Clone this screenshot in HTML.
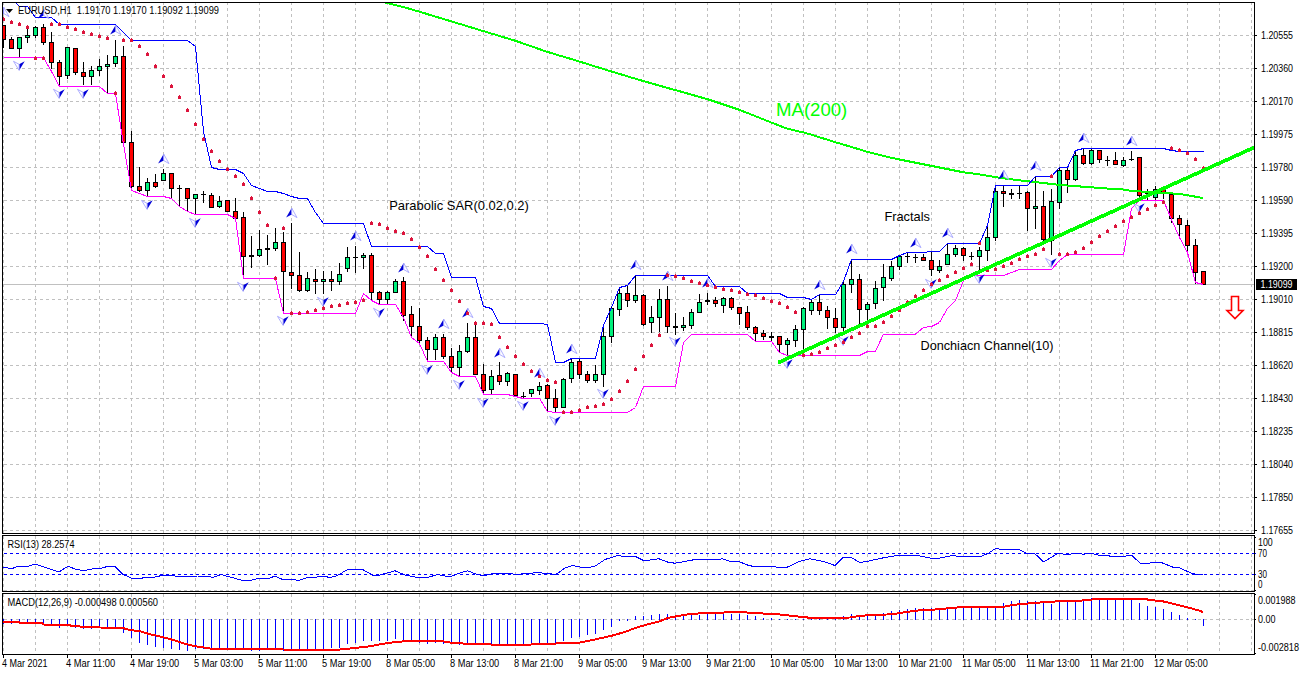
<!DOCTYPE html>
<html><head><meta charset="utf-8"><style>
html,body{margin:0;padding:0;background:#fff;}
body{width:1300px;height:675px;overflow:hidden;}
svg{display:block;font-family:"Liberation Sans", sans-serif;}
</style></head><body>
<svg width="1300" height="675" viewBox="0 0 1300 675">
<defs><clipPath id="cm"><rect x="3" y="3" width="1251" height="530"/></clipPath>
<clipPath id="cr"><rect x="3" y="536" width="1251" height="55"/></clipPath>
<clipPath id="cd"><rect x="3" y="594" width="1251" height="60"/></clipPath></defs>
<rect width="1300" height="675" fill="#fff"/>
<path d="M4 35.5H1254 M4 68.5H1254 M4 101.5H1254 M4 134.5H1254 M4 167.5H1254 M4 200.5H1254 M4 233.5H1254 M4 266.5H1254 M4 299.5H1254 M4 332.5H1254 M4 365.5H1254 M4 398.5H1254 M4 431.5H1254 M4 464.5H1254 M4 497.5H1254 M4 530.5H1254 M3.5 2V533 M35.5 2V533 M67.5 2V533 M99.5 2V533 M131.5 2V533 M163.5 2V533 M195.5 2V533 M227.5 2V533 M259.5 2V533 M291.5 2V533 M323.5 2V533 M355.5 2V533 M387.5 2V533 M419.5 2V533 M451.5 2V533 M483.5 2V533 M515.5 2V533 M547.5 2V533 M579.5 2V533 M611.5 2V533 M643.5 2V533 M675.5 2V533 M707.5 2V533 M739.5 2V533 M771.5 2V533 M803.5 2V533 M835.5 2V533 M867.5 2V533 M899.5 2V533 M931.5 2V533 M963.5 2V533 M995.5 2V533 M1027.5 2V533 M1059.5 2V533 M1091.5 2V533 M1123.5 2V533 M1155.5 2V533 M1187.5 2V533 M1219.5 2V533 M1251.5 2V533" stroke="#c0c0c0" stroke-width="1" stroke-dasharray="3 3" fill="none" shape-rendering="crispEdges"/>
<path d="M3.5 536V591 M3.5 594V654 M35.5 536V591 M35.5 594V654 M67.5 536V591 M67.5 594V654 M99.5 536V591 M99.5 594V654 M131.5 536V591 M131.5 594V654 M163.5 536V591 M163.5 594V654 M195.5 536V591 M195.5 594V654 M227.5 536V591 M227.5 594V654 M259.5 536V591 M259.5 594V654 M291.5 536V591 M291.5 594V654 M323.5 536V591 M323.5 594V654 M355.5 536V591 M355.5 594V654 M387.5 536V591 M387.5 594V654 M419.5 536V591 M419.5 594V654 M451.5 536V591 M451.5 594V654 M483.5 536V591 M483.5 594V654 M515.5 536V591 M515.5 594V654 M547.5 536V591 M547.5 594V654 M579.5 536V591 M579.5 594V654 M611.5 536V591 M611.5 594V654 M643.5 536V591 M643.5 594V654 M675.5 536V591 M675.5 594V654 M707.5 536V591 M707.5 594V654 M739.5 536V591 M739.5 594V654 M771.5 536V591 M771.5 594V654 M803.5 536V591 M803.5 594V654 M835.5 536V591 M835.5 594V654 M867.5 536V591 M867.5 594V654 M899.5 536V591 M899.5 594V654 M931.5 536V591 M931.5 594V654 M963.5 536V591 M963.5 594V654 M995.5 536V591 M995.5 594V654 M1027.5 536V591 M1027.5 594V654 M1059.5 536V591 M1059.5 594V654 M1091.5 536V591 M1091.5 594V654 M1123.5 536V591 M1123.5 594V654 M1155.5 536V591 M1155.5 594V654 M1187.5 536V591 M1187.5 594V654 M1219.5 536V591 M1219.5 594V654 M1251.5 536V591 M1251.5 594V654" stroke="#c0c0c0" stroke-dasharray="3 3" fill="none" shape-rendering="crispEdges"/>
<path d="M4 590.5H1254M4 619.5H1254" stroke="#c0c0c0" stroke-dasharray="3 3" fill="none" shape-rendering="crispEdges"/>
<path d="M4 553.5H1254M4 574.5H1254" stroke="#0000ff" stroke-dasharray="3 3" fill="none" shape-rendering="crispEdges"/>
<g clip-path="url(#cm)">
<path d="M3 284.5H1254" stroke="#c0c0c0" fill="none" shape-rendering="crispEdges"/>
<path d="M3.5 24.5V48.0 M11.5 37.0V49.0 M19.5 37.0V58.0 M27.5 29.0V43.0 M35.5 26.0V38 M43.5 24.0V45.0 M51.5 32.0V69.0 M59.5 60.0V86.0 M67.5 47.0V79.0 M75.5 48.0V75.0 M83.5 62.0V85.0 M91.5 66.0V85.0 M99.5 59.0V76.0 M107.5 55.0V94.0 M115.5 40.0V67.0 M123.5 46.0V145.0 M131.5 131.0V188.0 M139.5 167.0V192.0 M147.5 178.0V197.0 M155.5 174.0V188.0 M163.5 169.0V181.0 M171.5 173.0V199.0 M179.5 185.0V207.0 M177 188.5H182 M187.5 188.0V212.0 M195.5 194.0V215.0 M203.5 191.0V203.0 M201 194.5H206 M211.5 193.0V208.0 M219.5 196.0V208.0 M227.5 200.0V212.0 M235.5 198.0V219.0 M243.5 212.0V276.0 M251.5 236.0V268.0 M259.5 230.0V257.0 M267.5 235.0V265.0 M275.5 228.0V251.0 M283.5 232.0V312.0 M291.5 223.0V289.0 M299.5 252.0V292.0 M307.5 272.0V292.0 M315.5 269.0V294.0 M323.5 271.0V294.0 M331.5 271.0V291.0 M339.5 263.0V285.0 M347.5 247.0V272 M355.5 246.0V273.0 M353 257.5H358 M363.5 253.0V269.0 M371.5 253.0V301 M379.5 291.0V305 M387.5 291.0V305 M395.5 279.0V293.0 M403.5 277.0V321.0 M411.5 306.0V338.0 M419.5 308.0V344.0 M427.5 337.0V362.0 M435.5 334.0V360.0 M443.5 334.0V359.0 M451.5 348.0V373.0 M459.5 345.0V377.0 M467.5 323.0V353.0 M475.5 324.0V375.0 M483.5 364.0V395.0 M491.5 370.0V395.0 M499.5 362.0V385.0 M507.5 372.0V386.0 M515.5 374.0V397.0 M523.5 392.0V399.0 M521 396.5H526 M531.5 389.0V397.0 M539.5 382.0V395.0 M547.5 384.0V412.0 M555.5 389.0V413.0 M563.5 378.0V408.0 M571.5 358V383.0 M579.5 359.0V379.0 M587.5 371.0V383.0 M595.5 365.0V383.0 M603.5 325.0V387.0 M611.5 307.0V343.0 M619.5 287V316 M627.5 285.0V307.0 M635.5 275V303 M643.5 294.0V326.0 M651.5 306.0V333.0 M659.5 289.0V332.0 M667.5 286.0V333.0 M675.5 313.0V335.0 M683.5 317.0V331.0 M691.5 309.0V329.0 M699.5 294.0V313.0 M707.5 293.0V305.0 M715.5 297.0V307.0 M723.5 297.0V313.0 M731.5 297.0V310.0 M739.5 307.0V325.0 M747.5 306.0V330 M755.5 326.0V342.0 M763.5 330.0V340.0 M771.5 332.0V342.0 M779.5 336.0V353.0 M787.5 338.0V356.0 M795.5 325.0V347.0 M803.5 307.0V352 M811.5 299V315.0 M819.5 294V315.0 M827.5 306.0V329.0 M835.5 308.0V333.0 M843.5 281.0V332.0 M851.5 259V293.0 M859.5 274.0V325.0 M867.5 302.0V323.0 M875.5 281.0V309.0 M883.5 264.0V301.0 M891.5 261.0V281.0 M899.5 255.0V270.0 M907.5 252.0V263.0 M905 256.5H910 M915.5 254.0V263.0 M913 257.5H918 M923.5 254.0V261.0 M931.5 251.0V276.0 M939.5 260.0V273.0 M947.5 243V265.0 M955.5 245.0V257.0 M963.5 247.0V261.0 M971.5 252.0V260.0 M969 256.5H974 M979.5 247.0V270.0 M987.5 225.0V261.0 M995.5 185V241.0 M1003.5 185V207.0 M1011.5 189.0V199.0 M1019.5 186.0V199.0 M1017 193.5H1022 M1027.5 191.0V231.0 M1035.5 176.0V229.0 M1043.5 191.0V241.0 M1051.5 189.0V255.0 M1059.5 167V209.0 M1067.5 168.0V193.0 M1075.5 150.0V181.0 M1083.5 148V165.0 M1091.5 148V165.0 M1099.5 150V163.0 M1107.5 156.0V166.0 M1105 160.5H1110 M1115.5 152.0V165.0 M1123.5 157.0V167.0 M1131.5 151.0V161.0 M1129 159.5H1134 M1139.5 157.0V200 M1147.5 189.0V201.0 M1145 193.5H1150 M1155.5 186.0V200.0 M1163.5 190.0V199.0 M1171.5 192.0V223.0 M1179.5 215.0V238.0 M1187.5 220.0V253.0 M1195.5 239.0V284.0 M1203.5 271.0V285.0" stroke="#000" fill="none" shape-rendering="crispEdges"/>
<g shape-rendering="crispEdges"><rect x="1.5" y="25.5" width="4" height="14.0" fill="#ff0000" stroke="#000"/><rect x="9.5" y="39.5" width="4" height="9.0" fill="#ff0000" stroke="#000"/><rect x="17.5" y="37.5" width="4" height="11.0" fill="#00f07c" stroke="#000"/><rect x="25.5" y="35.5" width="4" height="2" fill="#00f07c" stroke="#000"/><rect x="33.5" y="27.5" width="4" height="8.0" fill="#00f07c" stroke="#000"/><rect x="41.5" y="27.5" width="4" height="15.0" fill="#ff0000" stroke="#000"/><rect x="49.5" y="42.5" width="4" height="20.0" fill="#ff0000" stroke="#000"/><rect x="57.5" y="62.5" width="4" height="14.0" fill="#ff0000" stroke="#000"/><rect x="65.5" y="47.5" width="4" height="28.0" fill="#00f07c" stroke="#000"/><rect x="73.5" y="48.5" width="4" height="24.0" fill="#ff0000" stroke="#000"/><rect x="81.5" y="72.5" width="4" height="4.0" fill="#ff0000" stroke="#000"/><rect x="89.5" y="70.5" width="4" height="6.0" fill="#00f07c" stroke="#000"/><rect x="97.5" y="66.5" width="4" height="4.0" fill="#00f07c" stroke="#000"/><rect x="105.5" y="64.5" width="4" height="2.0" fill="#00f07c" stroke="#000"/><rect x="113.5" y="56.5" width="4" height="7.0" fill="#00f07c" stroke="#000"/><rect x="121.5" y="56.5" width="4" height="86.0" fill="#ff0000" stroke="#000"/><rect x="129.5" y="142.5" width="4" height="44.0" fill="#ff0000" stroke="#000"/><rect x="137.5" y="186.5" width="4" height="4.0" fill="#ff0000" stroke="#000"/><rect x="145.5" y="182.5" width="4" height="8.0" fill="#00f07c" stroke="#000"/><rect x="153.5" y="182.5" width="4" height="4.0" fill="#ff0000" stroke="#000"/><rect x="161.5" y="173.5" width="4" height="7.0" fill="#00f07c" stroke="#000"/><rect x="169.5" y="173.5" width="4" height="15.0" fill="#ff0000" stroke="#000"/><rect x="185.5" y="188.5" width="4" height="10.0" fill="#ff0000" stroke="#000"/><rect x="193.5" y="194.5" width="4" height="4.0" fill="#00f07c" stroke="#000"/><rect x="209.5" y="195.5" width="4" height="12.0" fill="#ff0000" stroke="#000"/><rect x="217.5" y="201.5" width="4" height="5.0" fill="#00f07c" stroke="#000"/><rect x="225.5" y="200.5" width="4" height="11.0" fill="#ff0000" stroke="#000"/><rect x="233.5" y="211.5" width="4" height="7.0" fill="#ff0000" stroke="#000"/><rect x="241.5" y="217.5" width="4" height="39.0" fill="#ff0000" stroke="#000"/><rect x="249.5" y="255.5" width="4" height="1" fill="#ff0000" stroke="#000"/><rect x="257.5" y="249.5" width="4" height="6" fill="#00f07c" stroke="#000"/><rect x="265.5" y="248.5" width="4" height="1" fill="#ff0000" stroke="#000"/><rect x="273.5" y="242.5" width="4" height="6.0" fill="#00f07c" stroke="#000"/><rect x="281.5" y="242.5" width="4" height="29.0" fill="#ff0000" stroke="#000"/><rect x="289.5" y="272.5" width="4" height="3.0" fill="#ff0000" stroke="#000"/><rect x="297.5" y="275.5" width="4" height="15.0" fill="#ff0000" stroke="#000"/><rect x="305.5" y="278.5" width="4" height="12.0" fill="#00f07c" stroke="#000"/><rect x="313.5" y="279.5" width="4" height="2.0" fill="#ff0000" stroke="#000"/><rect x="321.5" y="279.5" width="4" height="2.0" fill="#00f07c" stroke="#000"/><rect x="329.5" y="279.5" width="4" height="2.0" fill="#ff0000" stroke="#000"/><rect x="337.5" y="274.5" width="4" height="7.0" fill="#00f07c" stroke="#000"/><rect x="345.5" y="257.5" width="4" height="11.0" fill="#00f07c" stroke="#000"/><rect x="361.5" y="255.5" width="4" height="2.0" fill="#00f07c" stroke="#000"/><rect x="369.5" y="255.5" width="4" height="37.0" fill="#ff0000" stroke="#000"/><rect x="377.5" y="292.5" width="4" height="7.0" fill="#ff0000" stroke="#000"/><rect x="385.5" y="292.5" width="4" height="7.0" fill="#00f07c" stroke="#000"/><rect x="393.5" y="281.5" width="4" height="11.0" fill="#00f07c" stroke="#000"/><rect x="401.5" y="281.5" width="4" height="34.0" fill="#ff0000" stroke="#000"/><rect x="409.5" y="314.5" width="4" height="12.0" fill="#ff0000" stroke="#000"/><rect x="417.5" y="326.5" width="4" height="14.0" fill="#ff0000" stroke="#000"/><rect x="425.5" y="340.5" width="4" height="9.0" fill="#ff0000" stroke="#000"/><rect x="433.5" y="337.5" width="4" height="12.0" fill="#00f07c" stroke="#000"/><rect x="441.5" y="337.5" width="4" height="19.0" fill="#ff0000" stroke="#000"/><rect x="449.5" y="356.5" width="4" height="11.0" fill="#ff0000" stroke="#000"/><rect x="457.5" y="351.5" width="4" height="16.0" fill="#00f07c" stroke="#000"/><rect x="465.5" y="337.5" width="4" height="14.0" fill="#00f07c" stroke="#000"/><rect x="473.5" y="337.5" width="4" height="37.0" fill="#ff0000" stroke="#000"/><rect x="481.5" y="374.5" width="4" height="16.0" fill="#ff0000" stroke="#000"/><rect x="489.5" y="376.5" width="4" height="13.0" fill="#00f07c" stroke="#000"/><rect x="497.5" y="375.5" width="4" height="6" fill="#ff0000" stroke="#000"/><rect x="505.5" y="373.5" width="4" height="8" fill="#00f07c" stroke="#000"/><rect x="513.5" y="374.5" width="4" height="21.0" fill="#ff0000" stroke="#000"/><rect x="529.5" y="389.5" width="4" height="4" fill="#00f07c" stroke="#000"/><rect x="537.5" y="386.5" width="4" height="4.0" fill="#00f07c" stroke="#000"/><rect x="545.5" y="385.5" width="4" height="13.0" fill="#ff0000" stroke="#000"/><rect x="553.5" y="398.5" width="4" height="9.0" fill="#ff0000" stroke="#000"/><rect x="561.5" y="379.5" width="4" height="28.0" fill="#00f07c" stroke="#000"/><rect x="569.5" y="362.5" width="4" height="16.0" fill="#00f07c" stroke="#000"/><rect x="577.5" y="361.5" width="4" height="13.0" fill="#ff0000" stroke="#000"/><rect x="585.5" y="374.5" width="4" height="6.0" fill="#ff0000" stroke="#000"/><rect x="593.5" y="374.5" width="4" height="6.0" fill="#00f07c" stroke="#000"/><rect x="601.5" y="336.5" width="4" height="38.0" fill="#00f07c" stroke="#000"/><rect x="609.5" y="308.5" width="4" height="28.0" fill="#00f07c" stroke="#000"/><rect x="617.5" y="293.5" width="4" height="16.0" fill="#00f07c" stroke="#000"/><rect x="625.5" y="293.5" width="4" height="7.0" fill="#ff0000" stroke="#000"/><rect x="633.5" y="295.5" width="4" height="5.0" fill="#00f07c" stroke="#000"/><rect x="641.5" y="295.5" width="4" height="29.0" fill="#ff0000" stroke="#000"/><rect x="649.5" y="317.5" width="4" height="5.0" fill="#00f07c" stroke="#000"/><rect x="657.5" y="299.5" width="4" height="18.0" fill="#00f07c" stroke="#000"/><rect x="665.5" y="299.5" width="4" height="27.0" fill="#ff0000" stroke="#000"/><rect x="673.5" y="326.5" width="4" height="1" fill="#ff0000" stroke="#000"/><rect x="681.5" y="325.5" width="4" height="2.0" fill="#00f07c" stroke="#000"/><rect x="689.5" y="312.5" width="4" height="13.0" fill="#00f07c" stroke="#000"/><rect x="697.5" y="302.5" width="4" height="10.0" fill="#00f07c" stroke="#000"/><rect x="705.5" y="300.5" width="4" height="1" fill="#ff0000" stroke="#000"/><rect x="713.5" y="300.5" width="4" height="3.0" fill="#ff0000" stroke="#000"/><rect x="721.5" y="298.5" width="4" height="7.0" fill="#00f07c" stroke="#000"/><rect x="729.5" y="298.5" width="4" height="9.0" fill="#ff0000" stroke="#000"/><rect x="737.5" y="307.5" width="4" height="6.0" fill="#ff0000" stroke="#000"/><rect x="745.5" y="312.5" width="4" height="15.0" fill="#ff0000" stroke="#000"/><rect x="753.5" y="327.5" width="4" height="6.0" fill="#ff0000" stroke="#000"/><rect x="761.5" y="333.5" width="4" height="3.0" fill="#ff0000" stroke="#000"/><rect x="769.5" y="336.5" width="4" height="1" fill="#ff0000" stroke="#000"/><rect x="777.5" y="336.5" width="4" height="8.0" fill="#ff0000" stroke="#000"/><rect x="785.5" y="340.5" width="4" height="4.0" fill="#00f07c" stroke="#000"/><rect x="793.5" y="329.5" width="4" height="11.0" fill="#00f07c" stroke="#000"/><rect x="801.5" y="308.5" width="4" height="21.0" fill="#00f07c" stroke="#000"/><rect x="809.5" y="302.5" width="4" height="8.0" fill="#00f07c" stroke="#000"/><rect x="817.5" y="302.5" width="4" height="8.0" fill="#ff0000" stroke="#000"/><rect x="825.5" y="310.5" width="4" height="7.0" fill="#ff0000" stroke="#000"/><rect x="833.5" y="318.5" width="4" height="9.0" fill="#ff0000" stroke="#000"/><rect x="841.5" y="284.5" width="4" height="43.0" fill="#00f07c" stroke="#000"/><rect x="849.5" y="279.5" width="4" height="5.0" fill="#00f07c" stroke="#000"/><rect x="857.5" y="279.5" width="4" height="30" fill="#ff0000" stroke="#000"/><rect x="865.5" y="304.5" width="4" height="5.0" fill="#00f07c" stroke="#000"/><rect x="873.5" y="288.5" width="4" height="15.0" fill="#00f07c" stroke="#000"/><rect x="881.5" y="277.5" width="4" height="10.0" fill="#00f07c" stroke="#000"/><rect x="889.5" y="266.5" width="4" height="12.0" fill="#00f07c" stroke="#000"/><rect x="897.5" y="256.5" width="4" height="10.0" fill="#00f07c" stroke="#000"/><rect x="921.5" y="257.5" width="4" height="3" fill="#ff0000" stroke="#000"/><rect x="929.5" y="260.5" width="4" height="9.0" fill="#ff0000" stroke="#000"/><rect x="937.5" y="266.5" width="4" height="4.0" fill="#00f07c" stroke="#000"/><rect x="945.5" y="254.5" width="4" height="10.0" fill="#00f07c" stroke="#000"/><rect x="953.5" y="248.5" width="4" height="6.0" fill="#00f07c" stroke="#000"/><rect x="961.5" y="248.5" width="4" height="7.0" fill="#ff0000" stroke="#000"/><rect x="977.5" y="250.5" width="4" height="6.0" fill="#00f07c" stroke="#000"/><rect x="985.5" y="237.5" width="4" height="13.0" fill="#00f07c" stroke="#000"/><rect x="993.5" y="191.5" width="4" height="46.0" fill="#00f07c" stroke="#000"/><rect x="1001.5" y="191.5" width="4" height="2.0" fill="#ff0000" stroke="#000"/><rect x="1009.5" y="193.5" width="4" height="1" fill="#ff0000" stroke="#000"/><rect x="1025.5" y="192.5" width="4" height="16.0" fill="#ff0000" stroke="#000"/><rect x="1033.5" y="206.5" width="4" height="2.0" fill="#00f07c" stroke="#000"/><rect x="1041.5" y="206.5" width="4" height="33.0" fill="#ff0000" stroke="#000"/><rect x="1049.5" y="201.5" width="4" height="39.0" fill="#00f07c" stroke="#000"/><rect x="1057.5" y="170.5" width="4" height="32.0" fill="#00f07c" stroke="#000"/><rect x="1065.5" y="170.5" width="4" height="9.0" fill="#ff0000" stroke="#000"/><rect x="1073.5" y="155.5" width="4" height="24" fill="#00f07c" stroke="#000"/><rect x="1081.5" y="155.5" width="4" height="8.0" fill="#ff0000" stroke="#000"/><rect x="1089.5" y="150.5" width="4" height="13.0" fill="#00f07c" stroke="#000"/><rect x="1097.5" y="150.5" width="4" height="9.0" fill="#ff0000" stroke="#000"/><rect x="1113.5" y="160.5" width="4" height="4.0" fill="#ff0000" stroke="#000"/><rect x="1121.5" y="160.5" width="4" height="5.0" fill="#00f07c" stroke="#000"/><rect x="1137.5" y="157.5" width="4" height="38.0" fill="#ff0000" stroke="#000"/><rect x="1153.5" y="189.5" width="4" height="8" fill="#00f07c" stroke="#000"/><rect x="1161.5" y="189.5" width="4" height="4.0" fill="#ff0000" stroke="#000"/><rect x="1169.5" y="194.5" width="4" height="24.0" fill="#ff0000" stroke="#000"/><rect x="1177.5" y="218.5" width="4" height="6.0" fill="#ff0000" stroke="#000"/><rect x="1185.5" y="225.5" width="4" height="20.0" fill="#ff0000" stroke="#000"/><rect x="1193.5" y="245.5" width="4" height="27.0" fill="#ff0000" stroke="#000"/><rect x="1201.5" y="271.5" width="4" height="13.0" fill="#ff0000" stroke="#000"/></g>
<polyline points="382.0,1.5 385.0,2.4 387.0,3.0 395.0,5.0 403.0,7.0 411.0,9.2 419.0,11.6 427.0,14.0 435.0,16.5 443.0,18.9 451.0,21.3 459.0,23.7 467.0,26.1 475.0,28.6 483.0,31.0 491.0,33.4 499.0,35.8 507.0,38.3 515.0,40.7 523.0,43.4 531.0,46.2 539.0,49.0 547.0,51.8 555.0,54.2 563.0,56.6 571.0,59.0 579.0,61.4 587.0,63.9 595.0,66.4 603.0,68.9 611.0,71.4 619.0,73.8 627.0,76.2 635.0,78.6 643.0,81.0 651.0,83.2 659.0,85.5 667.0,87.8 675.0,90.0 683.0,92.2 691.0,94.5 699.0,96.8 707.0,99.0 715.0,101.7 723.0,104.3 731.0,107.0 739.0,109.7 747.0,112.8 755.0,116.0 763.0,119.2 771.0,122.4 779.0,125.5 787.0,128.6 795.0,130.6 803.0,132.3 811.0,134.6 819.0,137.1 827.0,139.6 835.0,142.1 843.0,144.5 851.0,146.9 859.0,149.3 867.0,151.7 875.0,153.7 883.0,155.7 891.0,157.7 899.0,159.4 907.0,161.0 915.0,162.6 923.0,164.2 931.0,165.8 939.0,167.4 947.0,169.0 955.0,170.6 963.0,172.2 971.0,173.3 979.0,174.3 987.0,175.7 995.0,177.1 1003.0,178.3 1011.0,179.3 1019.0,180.2 1027.0,181.2 1035.0,182.1 1043.0,183.0 1051.0,183.9 1059.0,184.9 1067.0,185.5 1075.0,186.1 1083.0,186.7 1091.0,187.3 1099.0,187.9 1107.0,188.5 1115.0,189.0 1123.0,189.5 1131.0,190.8 1139.0,191.4 1147.0,191.9 1155.0,192.5 1163.0,193.0 1171.0,193.4 1179.0,193.9 1187.0,195.2 1195.0,196.6 1203.0,198.0" stroke="#00ff00" stroke-width="2" fill="none" shape-rendering="crispEdges"/>
<polyline points="3.5,-5.5 11.5,-1.7999999999999998 19.5,6.5 27.5,6.5 35.5,17.5 43.5,17.5 51.5,17.5 59.5,24.5 67.5,24.5 75.5,24.5 83.5,24.5 91.5,24.5 99.5,24.5 107.5,24.5 115.5,24.5 123.5,32.5 131.5,40.5 139.5,40.5 147.5,40.5 155.5,40.5 163.5,40.5 171.5,40.5 179.5,40.5 187.5,40.5 195.5,46.5 203.5,131.5 211.5,167.5 219.5,169.5 227.5,169.5 235.5,169.5 243.5,173.5 251.5,185.5 259.5,188.5 267.5,191.5 275.5,191.5 283.5,193.5 291.5,196.5 299.5,198.5 307.5,198.5 315.5,212.5 323.5,223.5 331.5,223.5 339.5,223.5 347.5,223.5 355.5,223.5 363.5,223.5 371.5,246.5 379.5,246.5 387.5,246.5 395.5,246.5 403.5,246.5 411.5,246.5 419.5,246.5 427.5,246.5 435.5,253.5 443.5,253.5 451.5,277.5 459.5,277.5 467.5,277.5 475.5,277.5 483.5,306.5 491.5,308.5 499.5,323.5 507.5,323.5 515.5,323.5 523.5,323.5 531.5,323.5 539.5,323.5 547.5,324.5 555.5,362.5 563.5,362.5 571.5,358.5 579.5,358.5 587.5,358.5 595.5,358.5 603.5,325.5 611.5,307.5 619.5,287.5 627.5,285.5 635.5,275.5 643.5,275.5 651.5,275.5 659.5,275.5 667.5,275.5 675.5,275.5 683.5,275.5 691.5,275.5 699.5,275.5 707.5,275.5 715.5,286.5 723.5,286.5 731.5,286.5 739.5,286.5 747.5,293.5 755.5,293.5 763.5,293.5 771.5,293.5 779.5,293.5 787.5,297.5 795.5,297.5 803.5,297.5 811.5,299.5 819.5,294.5 827.5,294.5 835.5,294.5 843.5,281.5 851.5,259.5 859.5,259.5 867.5,259.5 875.5,259.5 883.5,259.5 891.5,259.5 899.5,255.5 907.5,252.5 915.5,252.5 923.5,252.5 931.5,251.5 939.5,251.5 947.5,243.5 955.5,243.5 963.5,243.5 971.5,243.5 979.5,243.5 987.5,225.5 995.5,185.5 1003.5,185.5 1011.5,185.5 1019.5,185.5 1027.5,185.5 1035.5,176.5 1043.5,176.5 1051.5,176.5 1059.5,167.5 1067.5,167.5 1075.5,150.5 1083.5,148.5 1091.5,148.5 1099.5,148.5 1107.5,148.5 1115.5,148.5 1123.5,148.5 1131.5,148.5 1139.5,148.5 1147.5,148.5 1155.5,148.5 1163.5,148.5 1171.5,150.5 1179.5,151.5 1187.5,151.5 1195.5,151.5 1203.5,151.5" stroke="#0000ff" fill="none" shape-rendering="crispEdges"/>
<polyline points="3.5,57.5 11.5,57.5 19.5,57.5 27.5,57.5 35.5,57.5 43.5,57.5 51.5,71.5 59.5,86.5 67.5,86.5 75.5,86.5 83.5,86.5 91.5,86.5 99.5,86.5 107.5,93.5 115.5,93.5 123.5,144.5 131.5,190.5 139.5,193.5 147.5,196.5 155.5,196.5 163.5,196.5 171.5,198.5 179.5,206.5 187.5,211.5 195.5,214.5 203.5,214.5 211.5,214.5 219.5,214.5 227.5,214.5 235.5,218.5 243.5,278.5 251.5,278.5 259.5,278.5 267.5,278.5 275.5,278.5 283.5,313.5 291.5,313.5 299.5,313.5 307.5,313.5 315.5,313.5 323.5,313.5 331.5,313.5 339.5,313.5 347.5,313.5 355.5,313.5 363.5,293.5 371.5,300.5 379.5,304.5 387.5,304.5 395.5,304.5 403.5,317.5 411.5,337.5 419.5,343.5 427.5,361.5 435.5,361.5 443.5,361.5 451.5,372.5 459.5,376.5 467.5,376.5 475.5,376.5 483.5,394.5 491.5,394.5 499.5,394.5 507.5,394.5 515.5,396.5 523.5,398.5 531.5,398.5 539.5,398.5 547.5,411.5 555.5,412.5 563.5,412.5 571.5,412.5 579.5,412.5 587.5,412.5 595.5,412.5 603.5,412.5 611.5,412.5 619.5,412.5 627.5,412.5 635.5,407.5 643.5,386.5 651.5,386.5 659.5,386.5 667.5,386.5 675.5,386.5 683.5,342.5 691.5,334.5 699.5,334.5 707.5,334.5 715.5,334.5 723.5,334.5 731.5,334.5 739.5,334.5 747.5,334.5 755.5,341.5 763.5,341.5 771.5,341.5 779.5,352.5 787.5,355.5 795.5,355.5 803.5,355.5 811.5,355.5 819.5,355.5 827.5,355.5 835.5,355.5 843.5,355.5 851.5,355.5 859.5,355.5 867.5,351.5 875.5,351.5 883.5,334.0 891.5,334.0 899.5,334.0 907.5,334.0 915.5,334.0 923.5,327.5 931.5,326.5 939.5,322.5 947.5,308.5 955.5,300.5 963.5,280.5 971.5,275.5 979.5,275.5 987.5,275.5 995.5,275.5 1003.5,275.5 1011.5,272.5 1019.5,269.5 1027.5,269.5 1035.5,269.5 1043.5,269.5 1051.5,269.5 1059.5,260.5 1067.5,254.5 1075.5,254.5 1083.5,254.5 1091.5,254.5 1099.5,254.5 1107.5,254.5 1115.5,254.5 1123.5,254.5 1131.5,208.5 1139.5,200.5 1147.5,200.5 1155.5,200.5 1163.5,200.5 1171.5,219.5 1179.5,237.5 1187.5,252.5 1195.5,282.5 1203.5,284.5" stroke="#ff00ff" fill="none" shape-rendering="crispEdges"/>
<g><path d="M3.7 7L-1.8999999999999995 16.6L3.7 13.5Z" fill="#0000d8"/><path d="M3.7 7L9.0 16.6L3.7 13.5Z" fill="#fff" stroke="#9a9aff" stroke-width=".8"/><path d="M43.7 9L38.1 18.6L43.7 15.5Z" fill="#0000d8"/><path d="M43.7 9L49.0 18.6L43.7 15.5Z" fill="#fff" stroke="#9a9aff" stroke-width=".8"/><path d="M115.7 25L110.10000000000001 34.6L115.7 31.5Z" fill="#0000d8"/><path d="M115.7 25L121.0 34.6L115.7 31.5Z" fill="#fff" stroke="#9a9aff" stroke-width=".8"/><path d="M163.7 154L158.1 163.6L163.7 160.5Z" fill="#0000d8"/><path d="M163.7 154L169.0 163.6L163.7 160.5Z" fill="#fff" stroke="#9a9aff" stroke-width=".8"/><path d="M291.7 208L286.09999999999997 217.6L291.7 214.5Z" fill="#0000d8"/><path d="M291.7 208L297.0 217.6L291.7 214.5Z" fill="#fff" stroke="#9a9aff" stroke-width=".8"/><path d="M355.7 231L350.09999999999997 240.6L355.7 237.5Z" fill="#0000d8"/><path d="M355.7 231L361.0 240.6L355.7 237.5Z" fill="#fff" stroke="#9a9aff" stroke-width=".8"/><path d="M403.7 263L398.09999999999997 272.6L403.7 269.5Z" fill="#0000d8"/><path d="M403.7 263L409.0 272.6L403.7 269.5Z" fill="#fff" stroke="#9a9aff" stroke-width=".8"/><path d="M443.7 319L438.09999999999997 328.6L443.7 325.5Z" fill="#0000d8"/><path d="M443.7 319L449.0 328.6L443.7 325.5Z" fill="#fff" stroke="#9a9aff" stroke-width=".8"/><path d="M467.7 308L462.09999999999997 317.6L467.7 314.5Z" fill="#0000d8"/><path d="M467.7 308L473.0 317.6L467.7 314.5Z" fill="#fff" stroke="#9a9aff" stroke-width=".8"/><path d="M499.7 348L494.09999999999997 357.6L499.7 354.5Z" fill="#0000d8"/><path d="M499.7 348L505.0 357.6L499.7 354.5Z" fill="#fff" stroke="#9a9aff" stroke-width=".8"/><path d="M539.7 368L534.1 377.6L539.7 374.5Z" fill="#0000d8"/><path d="M539.7 368L545.0 377.6L539.7 374.5Z" fill="#fff" stroke="#9a9aff" stroke-width=".8"/><path d="M571.7 344L566.1 353.6L571.7 350.5Z" fill="#0000d8"/><path d="M571.7 344L577.0 353.6L571.7 350.5Z" fill="#fff" stroke="#9a9aff" stroke-width=".8"/><path d="M635.7 260L630.1 269.6L635.7 266.5Z" fill="#0000d8"/><path d="M635.7 260L641.0 269.6L635.7 266.5Z" fill="#fff" stroke="#9a9aff" stroke-width=".8"/><path d="M667.7 271L662.1 280.6L667.7 277.5Z" fill="#0000d8"/><path d="M667.7 271L673.0 280.6L667.7 277.5Z" fill="#fff" stroke="#9a9aff" stroke-width=".8"/><path d="M707.7 278L702.1 287.6L707.7 284.5Z" fill="#0000d8"/><path d="M707.7 278L713.0 287.6L707.7 284.5Z" fill="#fff" stroke="#9a9aff" stroke-width=".8"/><path d="M819.7 280L814.1 289.6L819.7 286.5Z" fill="#0000d8"/><path d="M819.7 280L825.0 289.6L819.7 286.5Z" fill="#fff" stroke="#9a9aff" stroke-width=".8"/><path d="M851.7 244L846.1 253.6L851.7 250.5Z" fill="#0000d8"/><path d="M851.7 244L857.0 253.6L851.7 250.5Z" fill="#fff" stroke="#9a9aff" stroke-width=".8"/><path d="M915.7 238L910.1 247.6L915.7 244.5Z" fill="#0000d8"/><path d="M915.7 238L921.0 247.6L915.7 244.5Z" fill="#fff" stroke="#9a9aff" stroke-width=".8"/><path d="M947.7 228L942.1 237.6L947.7 234.5Z" fill="#0000d8"/><path d="M947.7 228L953.0 237.6L947.7 234.5Z" fill="#fff" stroke="#9a9aff" stroke-width=".8"/><path d="M1003.7 170L998.1 179.6L1003.7 176.5Z" fill="#0000d8"/><path d="M1003.7 170L1009.0 179.6L1003.7 176.5Z" fill="#fff" stroke="#9a9aff" stroke-width=".8"/><path d="M1035.7 161L1030.1000000000001 170.6L1035.7 167.5Z" fill="#0000d8"/><path d="M1035.7 161L1041.0 170.6L1035.7 167.5Z" fill="#fff" stroke="#9a9aff" stroke-width=".8"/><path d="M1083.7 133L1078.1000000000001 142.6L1083.7 139.5Z" fill="#0000d8"/><path d="M1083.7 133L1089.0 142.6L1083.7 139.5Z" fill="#fff" stroke="#9a9aff" stroke-width=".8"/><path d="M1131.7 136L1126.1000000000001 145.6L1131.7 142.5Z" fill="#0000d8"/><path d="M1131.7 136L1137.0 145.6L1131.7 142.5Z" fill="#fff" stroke="#9a9aff" stroke-width=".8"/><path d="M19.1 70.4L24.700000000000003 61.3L19.1 64.3Z" fill="#0000d8"/><path d="M19.1 70.4L13.500000000000002 61.3L19.1 64.3Z" fill="#fff" stroke="#9a9aff" stroke-width=".8"/><path d="M59.1 98.4L64.7 89.3L59.1 92.3Z" fill="#0000d8"/><path d="M59.1 98.4L53.5 89.3L59.1 92.3Z" fill="#fff" stroke="#9a9aff" stroke-width=".8"/><path d="M83.1 98.4L88.69999999999999 89.3L83.1 92.3Z" fill="#0000d8"/><path d="M83.1 98.4L77.5 89.3L83.1 92.3Z" fill="#fff" stroke="#9a9aff" stroke-width=".8"/><path d="M147.1 209.4L152.7 200.3L147.1 203.3Z" fill="#0000d8"/><path d="M147.1 209.4L141.5 200.3L147.1 203.3Z" fill="#fff" stroke="#9a9aff" stroke-width=".8"/><path d="M195.1 227.4L200.7 218.3L195.1 221.3Z" fill="#0000d8"/><path d="M195.1 227.4L189.5 218.3L195.1 221.3Z" fill="#fff" stroke="#9a9aff" stroke-width=".8"/><path d="M243.1 291.4L248.7 282.3L243.1 285.3Z" fill="#0000d8"/><path d="M243.1 291.4L237.5 282.3L243.1 285.3Z" fill="#fff" stroke="#9a9aff" stroke-width=".8"/><path d="M283.1 325.4L288.70000000000005 316.3L283.1 319.3Z" fill="#0000d8"/><path d="M283.1 325.4L277.5 316.3L283.1 319.3Z" fill="#fff" stroke="#9a9aff" stroke-width=".8"/><path d="M323.1 306.4L328.70000000000005 297.3L323.1 300.3Z" fill="#0000d8"/><path d="M323.1 306.4L317.5 297.3L323.1 300.3Z" fill="#fff" stroke="#9a9aff" stroke-width=".8"/><path d="M379.1 317.4L384.70000000000005 308.3L379.1 311.3Z" fill="#0000d8"/><path d="M379.1 317.4L373.5 308.3L379.1 311.3Z" fill="#fff" stroke="#9a9aff" stroke-width=".8"/><path d="M427.1 374.4L432.70000000000005 365.3L427.1 368.3Z" fill="#0000d8"/><path d="M427.1 374.4L421.5 365.3L427.1 368.3Z" fill="#fff" stroke="#9a9aff" stroke-width=".8"/><path d="M459.1 389.4L464.70000000000005 380.3L459.1 383.3Z" fill="#0000d8"/><path d="M459.1 389.4L453.5 380.3L459.1 383.3Z" fill="#fff" stroke="#9a9aff" stroke-width=".8"/><path d="M483.1 407.4L488.70000000000005 398.3L483.1 401.3Z" fill="#0000d8"/><path d="M483.1 407.4L477.5 398.3L483.1 401.3Z" fill="#fff" stroke="#9a9aff" stroke-width=".8"/><path d="M523.1 410.4L528.7 401.3L523.1 404.3Z" fill="#0000d8"/><path d="M523.1 410.4L517.5 401.3L523.1 404.3Z" fill="#fff" stroke="#9a9aff" stroke-width=".8"/><path d="M555.1 425.4L560.7 416.3L555.1 419.3Z" fill="#0000d8"/><path d="M555.1 425.4L549.5 416.3L555.1 419.3Z" fill="#fff" stroke="#9a9aff" stroke-width=".8"/><path d="M603.1 398.4L608.7 389.3L603.1 392.3Z" fill="#0000d8"/><path d="M603.1 398.4L597.5 389.3L603.1 392.3Z" fill="#fff" stroke="#9a9aff" stroke-width=".8"/><path d="M675.1 346.4L680.7 337.3L675.1 340.3Z" fill="#0000d8"/><path d="M675.1 346.4L669.5 337.3L675.1 340.3Z" fill="#fff" stroke="#9a9aff" stroke-width=".8"/><path d="M787.1 368.4L792.7 359.3L787.1 362.3Z" fill="#0000d8"/><path d="M787.1 368.4L781.5 359.3L787.1 362.3Z" fill="#fff" stroke="#9a9aff" stroke-width=".8"/><path d="M843.1 345.4L848.7 336.3L843.1 339.3Z" fill="#0000d8"/><path d="M843.1 345.4L837.5 336.3L843.1 339.3Z" fill="#fff" stroke="#9a9aff" stroke-width=".8"/><path d="M931.1 288.4L936.7 279.3L931.1 282.3Z" fill="#0000d8"/><path d="M931.1 288.4L925.5 279.3L931.1 282.3Z" fill="#fff" stroke="#9a9aff" stroke-width=".8"/><path d="M979.1 283.4L984.7 274.3L979.1 277.3Z" fill="#0000d8"/><path d="M979.1 283.4L973.5 274.3L979.1 277.3Z" fill="#fff" stroke="#9a9aff" stroke-width=".8"/><path d="M1051.1 267.4L1056.6999999999998 258.3L1051.1 261.3Z" fill="#0000d8"/><path d="M1051.1 267.4L1045.5 258.3L1051.1 261.3Z" fill="#fff" stroke="#9a9aff" stroke-width=".8"/><path d="M1139.1 212.4L1144.6999999999998 203.3L1139.1 206.3Z" fill="#0000d8"/><path d="M1139.1 212.4L1133.5 203.3L1139.1 206.3Z" fill="#fff" stroke="#9a9aff" stroke-width=".8"/></g>
<path d="M2 18h3v3h-3z M3 17h1v1h-1z M10 21h3v3h-3z M11 20h1v1h-1z M18 23h3v3h-3z M19 22h1v1h-1z M26 26h3v3h-3z M27 25h1v1h-1z M34 57h3v3h-3z M35 56h1v1h-1z M42 57h3v3h-3z M43 56h1v1h-1z M50 23h3v3h-3z M51 22h1v1h-1z M58 23h3v3h-3z M59 22h1v1h-1z M66 26h3v3h-3z M67 25h1v1h-1z M74 28h3v3h-3z M75 27h1v1h-1z M82 31h3v3h-3z M83 30h1v1h-1z M90 33h3v3h-3z M91 32h1v1h-1z M98 35h3v3h-3z M99 34h1v1h-1z M106 37h3v3h-3z M107 36h1v1h-1z M114 92h3v3h-3z M115 91h1v1h-1z M122 39h3v3h-3z M123 38h1v1h-1z M130 39h3v3h-3z M131 38h1v1h-1z M138 45h3v3h-3z M139 44h1v1h-1z M146 53h3v3h-3z M147 52h1v1h-1z M154 65h3v3h-3z M155 64h1v1h-1z M162 75h3v3h-3z M163 74h1v1h-1z M170 85h3v3h-3z M171 84h1v1h-1z M178 96h3v3h-3z M179 95h1v1h-1z M186 109h3v3h-3z M187 108h1v1h-1z M194 123h3v3h-3z M195 122h1v1h-1z M202 138h3v3h-3z M203 137h1v1h-1z M210 150h3v3h-3z M211 149h1v1h-1z M218 160h3v3h-3z M219 159h1v1h-1z M226 168h3v3h-3z M227 167h1v1h-1z M234 175h3v3h-3z M235 174h1v1h-1z M242 183h3v3h-3z M243 182h1v1h-1z M250 197h3v3h-3z M251 196h1v1h-1z M258 211h3v3h-3z M259 210h1v1h-1z M266 224h3v3h-3z M267 223h1v1h-1z M274 277h3v3h-3z M275 276h1v1h-1z M282 227h3v3h-3z M283 226h1v1h-1z M290 312h3v3h-3z M291 311h1v1h-1z M298 312h3v3h-3z M299 311h1v1h-1z M306 311h3v3h-3z M307 310h1v1h-1z M314 309h3v3h-3z M315 308h1v1h-1z M322 307h3v3h-3z M323 306h1v1h-1z M330 305h3v3h-3z M331 304h1v1h-1z M338 304h3v3h-3z M339 303h1v1h-1z M346 302h3v3h-3z M347 301h1v1h-1z M354 301h3v3h-3z M355 300h1v1h-1z M362 299h3v3h-3z M363 298h1v1h-1z M370 222h3v3h-3z M371 221h1v1h-1z M378 223h3v3h-3z M379 222h1v1h-1z M386 227h3v3h-3z M387 226h1v1h-1z M394 230h3v3h-3z M395 229h1v1h-1z M402 232h3v3h-3z M403 231h1v1h-1z M410 238h3v3h-3z M411 237h1v1h-1z M418 246h3v3h-3z M419 245h1v1h-1z M426 255h3v3h-3z M427 254h1v1h-1z M434 268h3v3h-3z M435 267h1v1h-1z M442 279h3v3h-3z M443 278h1v1h-1z M450 289h3v3h-3z M451 288h1v1h-1z M458 300h3v3h-3z M459 299h1v1h-1z M466 312h3v3h-3z M467 311h1v1h-1z M474 322h3v3h-3z M475 321h1v1h-1z M482 322h3v3h-3z M483 321h1v1h-1z M490 323h3v3h-3z M491 322h1v1h-1z M498 336h3v3h-3z M499 335h1v1h-1z M506 346h3v3h-3z M507 345h1v1h-1z M514 355h3v3h-3z M515 354h1v1h-1z M522 363h3v3h-3z M523 362h1v1h-1z M530 370h3v3h-3z M531 369h1v1h-1z M538 375h3v3h-3z M539 374h1v1h-1z M546 379h3v3h-3z M547 378h1v1h-1z M554 381h3v3h-3z M555 380h1v1h-1z M562 411h3v3h-3z M563 410h1v1h-1z M570 411h3v3h-3z M571 410h1v1h-1z M578 409h3v3h-3z M579 408h1v1h-1z M586 406h3v3h-3z M587 405h1v1h-1z M594 405h3v3h-3z M595 404h1v1h-1z M602 403h3v3h-3z M603 402h1v1h-1z M610 398h3v3h-3z M611 397h1v1h-1z M618 390h3v3h-3z M619 389h1v1h-1z M626 380h3v3h-3z M627 379h1v1h-1z M634 368h3v3h-3z M635 367h1v1h-1z M642 355h3v3h-3z M643 354h1v1h-1z M650 344h3v3h-3z M651 343h1v1h-1z M658 334h3v3h-3z M659 333h1v1h-1z M666 274h3v3h-3z M667 273h1v1h-1z M674 275h3v3h-3z M675 274h1v1h-1z M682 277h3v3h-3z M683 276h1v1h-1z M690 280h3v3h-3z M691 279h1v1h-1z M698 282h3v3h-3z M699 281h1v1h-1z M706 284h3v3h-3z M707 283h1v1h-1z M714 286h3v3h-3z M715 285h1v1h-1z M722 288h3v3h-3z M723 287h1v1h-1z M730 289h3v3h-3z M731 288h1v1h-1z M738 291h3v3h-3z M739 290h1v1h-1z M746 293h3v3h-3z M747 292h1v1h-1z M754 294h3v3h-3z M755 293h1v1h-1z M762 297h3v3h-3z M763 296h1v1h-1z M770 300h3v3h-3z M771 299h1v1h-1z M778 302h3v3h-3z M779 301h1v1h-1z M786 306h3v3h-3z M787 305h1v1h-1z M794 311h3v3h-3z M795 310h1v1h-1z M802 354h3v3h-3z M803 353h1v1h-1z M810 353h3v3h-3z M811 352h1v1h-1z M818 351h3v3h-3z M819 350h1v1h-1z M826 347h3v3h-3z M827 346h1v1h-1z M834 344h3v3h-3z M835 343h1v1h-1z M842 341h3v3h-3z M843 340h1v1h-1z M850 336h3v3h-3z M851 335h1v1h-1z M858 332h3v3h-3z M859 331h1v1h-1z M866 325h3v3h-3z M867 324h1v1h-1z M874 325h3v3h-3z M875 324h1v1h-1z M882 321h3v3h-3z M883 320h1v1h-1z M890 315h3v3h-3z M891 314h1v1h-1z M898 309h3v3h-3z M899 308h1v1h-1z M906 301h3v3h-3z M907 300h1v1h-1z M914 295h3v3h-3z M915 294h1v1h-1z M922 289h3v3h-3z M923 288h1v1h-1z M930 283h3v3h-3z M931 282h1v1h-1z M938 279h3v3h-3z M939 278h1v1h-1z M946 275h3v3h-3z M947 274h1v1h-1z M954 271h3v3h-3z M955 270h1v1h-1z M962 267h3v3h-3z M963 266h1v1h-1z M970 263h3v3h-3z M971 262h1v1h-1z M978 242h3v3h-3z M979 241h1v1h-1z M986 269h3v3h-3z M987 268h1v1h-1z M994 268h3v3h-3z M995 267h1v1h-1z M1002 265h3v3h-3z M1003 264h1v1h-1z M1010 262h3v3h-3z M1011 261h1v1h-1z M1018 258h3v3h-3z M1019 257h1v1h-1z M1026 255h3v3h-3z M1027 254h1v1h-1z M1034 253h3v3h-3z M1035 252h1v1h-1z M1042 248h3v3h-3z M1043 247h1v1h-1z M1050 175h3v3h-3z M1051 174h1v1h-1z M1058 253h3v3h-3z M1059 252h1v1h-1z M1066 253h3v3h-3z M1067 252h1v1h-1z M1074 251h3v3h-3z M1075 250h1v1h-1z M1082 247h3v3h-3z M1083 246h1v1h-1z M1090 241h3v3h-3z M1091 240h1v1h-1z M1098 235h3v3h-3z M1099 234h1v1h-1z M1106 230h3v3h-3z M1107 229h1v1h-1z M1114 225h3v3h-3z M1115 224h1v1h-1z M1122 220h3v3h-3z M1123 219h1v1h-1z M1130 216h3v3h-3z M1131 215h1v1h-1z M1138 212h3v3h-3z M1139 211h1v1h-1z M1146 208h3v3h-3z M1147 207h1v1h-1z M1154 204h3v3h-3z M1155 203h1v1h-1z M1162 201h3v3h-3z M1163 200h1v1h-1z M1170 147h3v3h-3z M1171 146h1v1h-1z M1178 149h3v3h-3z M1179 148h1v1h-1z M1186 152h3v3h-3z M1187 151h1v1h-1z M1194 158h3v3h-3z M1195 157h1v1h-1z M1202 167h3v3h-3z M1203 166h1v1h-1z" fill="#dc143c" shape-rendering="crispEdges"/>
<path d="M777.5 360.93L1255 145.10L1255 149.10L777.5 364.93Z" fill="#00ff00" shape-rendering="crispEdges"/>
</g>
<g clip-path="url(#cr)">
<polyline points="3,567.4 7.8,568 12.4,568.4 17,566.7 28,566.3 34.6,564.1 40.5,565.8 58.8,572 68,566.3 75.8,569.3 81,570.2 86.3,570.2 94,568.7 102,568 104.6,567.1 112.4,566.3 115,566.7 122.2,573.9 131,578 142.5,578 155,577 164,575 175,576 185,577 197.5,576 207.5,576 212.5,577.5 221,574.5 230,577 242.5,580.5 250,580.5 257.5,578.75 270,578 275,576 282.5,579.5 292.5,579.5 298.75,580.5 307.5,577.5 317.5,577 325,576.5 330,577.5 337.5,575.5 347.5,569.5 362.5,569.5 372.5,575 380,575 395,570.75 405,575 415,577 426,578 437.5,574.5 450,577 457.5,573.75 467.5,570.75 475,573.75 483.75,575.75 492.5,573.75 505,573 515,574.25 527.5,573.75 537.5,572.5 547.5,573.75 556.25,574.25 565,568 572.5,565.5 585,568 595,566.25 605,559.5 617.5,555.5 627.5,557 635,556.25 642.5,560 650,560 658.75,558.75 667.5,562 675,563.25 682.5,562 695,559.5 717.5,559.5 722.5,558.75 730,561.25 740,562 747.5,565 752.5,566.25 772.5,566.25 780,568 787.5,567 800,561.25 810,558.75 822.5,561.25 835,565.5 842.5,558 850,557 860,562.5 867.5,561.25 882.5,558 897.5,555.5 917.5,555.5 930,558 940,558 952.5,555.5 962.5,557 975,556.5 981.25,556.25 988.75,553 996.25,548 1000,549.5 1018.75,549.5 1027.5,553.75 1035,553.75 1043.75,562 1050,558 1058.75,553 1067.5,555 1075,553 1080,553 1082.5,554.5 1090,553 1097.5,555 1112.5,556.25 1125,556.25 1131.25,555 1140,563 1150,563 1155,562 1162.5,563 1172.5,567 1180,568 1192.5,573.75 1203,575" stroke="#0000ff" fill="none" shape-rendering="crispEdges"/>
</g>
<g clip-path="url(#cd)">
<path d="M3.5 619V623.5 M11.5 619V624.25 M19.5 619V621.5 M27.5 619V622.5 M35.5 619V623.0 M43.5 619V623.0 M51.5 619V624.25 M59.5 619V627.5 M67.5 619V625.5 M75.5 619V628.0 M83.5 619V629.25 M91.5 619V629.25 M99.5 619V628.0 M107.5 619V628.5 M115.5 619V628.0 M123.5 619V632.5 M131.5 619V638.0 M139.5 619V642.5 M147.5 619V645.0 M155.5 619V646.75 M163.5 619V647.5 M171.5 619V648.5 M179.5 619V649.75 M187.5 619V650.5 M195.5 619V648.5 M203.5 619V648.5 M211.5 619V649.25 M219.5 619V649.25 M227.5 619V649.25 M235.5 619V649.25 M243.5 619V649.25 M251.5 619V651.0 M259.5 619V651.0 M267.5 619V649.25 M275.5 619V649.25 M283.5 619V650.5 M291.5 619V649.5 M299.5 619V649.5 M307.5 619V648.5 M315.5 619V648.5 M323.5 619V648.5 M331.5 619V648.0 M339.5 619V647.5 M347.5 619V644.25 M355.5 619V642.5 M363.5 619V640.5 M371.5 619V640.5 M379.5 619V640.5 M387.5 619V640.5 M395.5 619V639.25 M403.5 619V641.0 M411.5 619V641.75 M419.5 619V642.5 M427.5 619V643.5 M435.5 619V643.0 M443.5 619V644.25 M451.5 619V644.25 M459.5 619V645.0 M467.5 619V643.5 M475.5 619V643.5 M483.5 619V644.25 M491.5 619V644.25 M499.5 619V644.25 M507.5 619V644.25 M515.5 619V645.0 M523.5 619V644.25 M531.5 619V644.25 M539.5 619V643.0 M547.5 619V643.0 M555.5 619V642.5 M563.5 619V640.5 M571.5 619V638.0 M579.5 619V636.75 M587.5 619V635.0 M595.5 619V633.5 M603.5 619V630.0 M611.5 619V626.75 M619.5 619V621.0 M627.5 619V620.5 M635.5 616.25V620 M643.5 615.75V620 M651.5 615V620 M659.5 614.25V620 M667.5 614.25V620 M675.5 615V620 M683.5 614.5V620 M691.5 614.5V620 M699.5 614.5V620 M707.5 613.75V620 M715.5 613.75V620 M723.5 613.75V620 M731.5 613.75V620 M739.5 613.75V620 M747.5 615V620 M755.5 616.25V620 M763.5 617.5V620 M771.5 618V620 M779.5 619V620.0 M787.5 619V620.0 M795.5 618.75V620 M803.5 618.75V620 M811.5 618V620 M819.5 618V620 M827.5 618V620 M835.5 618V620 M843.5 615.75V620 M851.5 614.25V620 M859.5 615V620 M867.5 615V620 M875.5 614.25V620 M883.5 613V620 M891.5 611.25V620 M899.5 610V620 M907.5 608.75V620 M915.5 608V620 M923.5 608V620 M931.5 608V620 M939.5 607.5V620 M947.5 607V620 M955.5 607V620 M963.5 607V620 M971.5 607V620 M979.5 607V620 M987.5 607V620 M995.5 605.5V620 M1003.5 603V620 M1011.5 601.25V620 M1019.5 600V620 M1027.5 601.25V620 M1035.5 601.25V620 M1043.5 601.25V620 M1051.5 603.75V620 M1059.5 601.25V620 M1067.5 600.5V620 M1075.5 600.5V620 M1083.5 599.5V620 M1091.5 598V620 M1099.5 598V620 M1107.5 598V620 M1115.5 598.75V620 M1123.5 598.75V620 M1131.5 599.5V620 M1139.5 603V620 M1147.5 606.25V620 M1155.5 607V620 M1163.5 608.75V620 M1171.5 612V620 M1179.5 615V620 M1187.5 618V620 M1195.5 619V619.5 M1203.5 619V625.5" stroke="#0000ff" fill="none" shape-rendering="crispEdges"/>
<polyline points="3,621.75 18.75,621.75 20,623 42.5,623 43.75,624.5 67.5,625 75,626.25 100,627.5 122.5,628 130,630 140,631.25 150,634.25 162.5,637 175,640.5 185,643.75 195,646.25 203.75,647.5 211.25,648.75 250,648.75 282.5,649.5 325,650 340,649.5 355,648 370,646.25 387.5,643 405,641.25 442.5,641.25 452.5,643 467.5,643.75 491.25,644.5 531.25,644.5 562.5,643.25 580,642.5 595,639.5 612.5,635.5 625,632 635,628 650,623.75 660,621.25 667.5,618 683.75,615 692.5,613.75 708.75,613 740,612 746.25,612 747.5,613 770,613.75 780,614.5 795,616.25 812.5,618 850,617.5 860,615.75 875,615 892.5,614.25 900,613 915,610.75 925,610 940,609.25 950,608 965,607 975,607 1002.5,607 1012.5,605 1025,603.75 1035,603 1045,602 1060,601.25 1082.5,600.5 1092.5,599.5 1107.5,599 1147.5,599.5 1155,600.5 1162.5,601.25 1170,603 1180,605.5 1190,608 1198.75,610.5 1203,612" stroke="#ff0000" stroke-width="2" fill="none" shape-rendering="crispEdges"/>
</g>
<path d="M2.5 2.5H1254.5V533.5H2.5Z M2.5 535.5H1254.5V591.5H2.5Z M2.5 593.5H1254.5V654.5H2.5Z" stroke="#000" fill="none" shape-rendering="crispEdges"/>
<path d="M1255 35.5H1257 M1255 68.5H1257 M1255 101.5H1257 M1255 134.5H1257 M1255 167.5H1257 M1255 200.5H1257 M1255 233.5H1257 M1255 266.5H1257 M1255 299.5H1257 M1255 332.5H1257 M1255 365.5H1257 M1255 398.5H1257 M1255 431.5H1257 M1255 464.5H1257 M1255 497.5H1257 M1255 530.5H1257 M1255 537.5H1256 M1255 590.5H1256 M1255 594.5H1256 M1255 619.5H1256 M1255 653.5H1256 M3.5 655V658 M67.5 655V658 M131.5 655V658 M195.5 655V658 M259.5 655V658 M323.5 655V658 M387.5 655V658 M451.5 655V658 M515.5 655V658 M579.5 655V658 M643.5 655V658 M707.5 655V658 M771.5 655V658 M835.5 655V658 M899.5 655V658 M963.5 655V658 M1027.5 655V658 M1091.5 655V658 M1155.5 655V658" stroke="#000" fill="none" shape-rendering="crispEdges"/>
<path d="M1255 553.5H1256M1255 574.5H1256" stroke="#0000ff" fill="none" shape-rendering="crispEdges"/>
<rect x="1256" y="279" width="41" height="11" fill="#000"/>
<path d="M6 9H13L9.5 13Z" fill="#000"/>
<path d="M1231.5 296.5H1238.5V310.5H1243L1235 318.5L1227 310.5H1231.5Z" fill="#fff" stroke="#ff0000" stroke-width="1.6"/>
<g>
<text x="1261" y="39" font-size="10" fill="#000" textLength="32" lengthAdjust="spacingAndGlyphs">1.20555</text>
<text x="1261" y="72" font-size="10" fill="#000" textLength="32" lengthAdjust="spacingAndGlyphs">1.20360</text>
<text x="1261" y="105" font-size="10" fill="#000" textLength="32" lengthAdjust="spacingAndGlyphs">1.20170</text>
<text x="1261" y="138" font-size="10" fill="#000" textLength="32" lengthAdjust="spacingAndGlyphs">1.19975</text>
<text x="1261" y="171" font-size="10" fill="#000" textLength="32" lengthAdjust="spacingAndGlyphs">1.19780</text>
<text x="1261" y="204" font-size="10" fill="#000" textLength="32" lengthAdjust="spacingAndGlyphs">1.19590</text>
<text x="1261" y="237" font-size="10" fill="#000" textLength="32" lengthAdjust="spacingAndGlyphs">1.19395</text>
<text x="1261" y="270" font-size="10" fill="#000" textLength="32" lengthAdjust="spacingAndGlyphs">1.19200</text>
<text x="1261" y="303" font-size="10" fill="#000" textLength="32" lengthAdjust="spacingAndGlyphs">1.19010</text>
<text x="1261" y="336" font-size="10" fill="#000" textLength="32" lengthAdjust="spacingAndGlyphs">1.18815</text>
<text x="1261" y="369" font-size="10" fill="#000" textLength="32" lengthAdjust="spacingAndGlyphs">1.18620</text>
<text x="1261" y="402" font-size="10" fill="#000" textLength="32" lengthAdjust="spacingAndGlyphs">1.18430</text>
<text x="1261" y="435" font-size="10" fill="#000" textLength="32" lengthAdjust="spacingAndGlyphs">1.18235</text>
<text x="1261" y="468" font-size="10" fill="#000" textLength="32" lengthAdjust="spacingAndGlyphs">1.18040</text>
<text x="1261" y="501" font-size="10" fill="#000" textLength="32" lengthAdjust="spacingAndGlyphs">1.17850</text>
<text x="1261" y="534" font-size="10" fill="#000" textLength="32" lengthAdjust="spacingAndGlyphs">1.17655</text>
<text x="1260.5" y="288" font-size="10" fill="#fff" textLength="32" lengthAdjust="spacingAndGlyphs">1.19099</text>
<text x="1258" y="546" font-size="10" fill="#000" textLength="14.7" lengthAdjust="spacingAndGlyphs">100</text>
<text x="1258" y="557" font-size="10" fill="#000" textLength="9" lengthAdjust="spacingAndGlyphs">70</text>
<text x="1258" y="578" font-size="10" fill="#000" textLength="9" lengthAdjust="spacingAndGlyphs">30</text>
<text x="1258" y="588" font-size="10" fill="#000" textLength="4.5" lengthAdjust="spacingAndGlyphs">0</text>
<text x="1258" y="604" font-size="10" fill="#000" textLength="37.5" lengthAdjust="spacingAndGlyphs">0.001988</text>
<text x="1258" y="623" font-size="10" fill="#000" textLength="17.5" lengthAdjust="spacingAndGlyphs">0.00</text>
<text x="1258" y="651" font-size="10" fill="#000" textLength="41" lengthAdjust="spacingAndGlyphs">-0.002818</text>
<text x="2" y="667" font-size="10" fill="#000" textLength="45.5" lengthAdjust="spacingAndGlyphs">4 Mar 2021</text>
<text x="66" y="667" font-size="10" fill="#000" textLength="49.25" lengthAdjust="spacingAndGlyphs">4 Mar 11:00</text>
<text x="130" y="667" font-size="10" fill="#000" textLength="49.25" lengthAdjust="spacingAndGlyphs">4 Mar 19:00</text>
<text x="194" y="667" font-size="10" fill="#000" textLength="49.25" lengthAdjust="spacingAndGlyphs">5 Mar 03:00</text>
<text x="258" y="667" font-size="10" fill="#000" textLength="49.25" lengthAdjust="spacingAndGlyphs">5 Mar 11:00</text>
<text x="322" y="667" font-size="10" fill="#000" textLength="49.25" lengthAdjust="spacingAndGlyphs">5 Mar 19:00</text>
<text x="386" y="667" font-size="10" fill="#000" textLength="49.25" lengthAdjust="spacingAndGlyphs">8 Mar 05:00</text>
<text x="450" y="667" font-size="10" fill="#000" textLength="49.25" lengthAdjust="spacingAndGlyphs">8 Mar 13:00</text>
<text x="514" y="667" font-size="10" fill="#000" textLength="49.25" lengthAdjust="spacingAndGlyphs">8 Mar 21:00</text>
<text x="578" y="667" font-size="10" fill="#000" textLength="49.25" lengthAdjust="spacingAndGlyphs">9 Mar 05:00</text>
<text x="642" y="667" font-size="10" fill="#000" textLength="49.25" lengthAdjust="spacingAndGlyphs">9 Mar 13:00</text>
<text x="706" y="667" font-size="10" fill="#000" textLength="49.25" lengthAdjust="spacingAndGlyphs">9 Mar 21:00</text>
<text x="770" y="667" font-size="10" fill="#000" textLength="53.75" lengthAdjust="spacingAndGlyphs">10 Mar 05:00</text>
<text x="834" y="667" font-size="10" fill="#000" textLength="53.75" lengthAdjust="spacingAndGlyphs">10 Mar 13:00</text>
<text x="898" y="667" font-size="10" fill="#000" textLength="53.75" lengthAdjust="spacingAndGlyphs">10 Mar 21:00</text>
<text x="962" y="667" font-size="10" fill="#000" textLength="53.75" lengthAdjust="spacingAndGlyphs">11 Mar 05:00</text>
<text x="1026" y="667" font-size="10" fill="#000" textLength="53.75" lengthAdjust="spacingAndGlyphs">11 Mar 13:00</text>
<text x="1090" y="667" font-size="10" fill="#000" textLength="53.75" lengthAdjust="spacingAndGlyphs">11 Mar 21:00</text>
<text x="1154" y="667" font-size="10" fill="#000" textLength="53.75" lengthAdjust="spacingAndGlyphs">12 Mar 05:00</text>
<text x="18" y="14" font-size="10" fill="#000" textLength="201" lengthAdjust="spacingAndGlyphs">EURUSD,H1&#160;&#160;1.19170 1.19170 1.19092 1.19099</text>
<text x="7.5" y="548" font-size="10" fill="#000" textLength="67" lengthAdjust="spacingAndGlyphs">RSI(13) 28.2574</text>
<text x="7.5" y="606" font-size="10" fill="#000" textLength="150.5" lengthAdjust="spacingAndGlyphs">MACD(12,26,9) -0.000498 0.000560</text>
<text x="389.2" y="210.3" font-size="13" fill="#000" textLength="139.7" lengthAdjust="spacingAndGlyphs">Parabolic SAR(0.02,0.2)</text>
<text x="884.4" y="221" font-size="13" fill="#000" textLength="45.6" lengthAdjust="spacingAndGlyphs">Fractals</text>
<text x="920.5" y="349.7" font-size="13" fill="#000" textLength="133" lengthAdjust="spacingAndGlyphs">Donchiacn Channel(10)</text>
<text x="776" y="115.8" font-size="19" fill="#00ff00" textLength="71.3" lengthAdjust="spacingAndGlyphs">MA(200)</text>
</g>
</svg>
</body></html>
